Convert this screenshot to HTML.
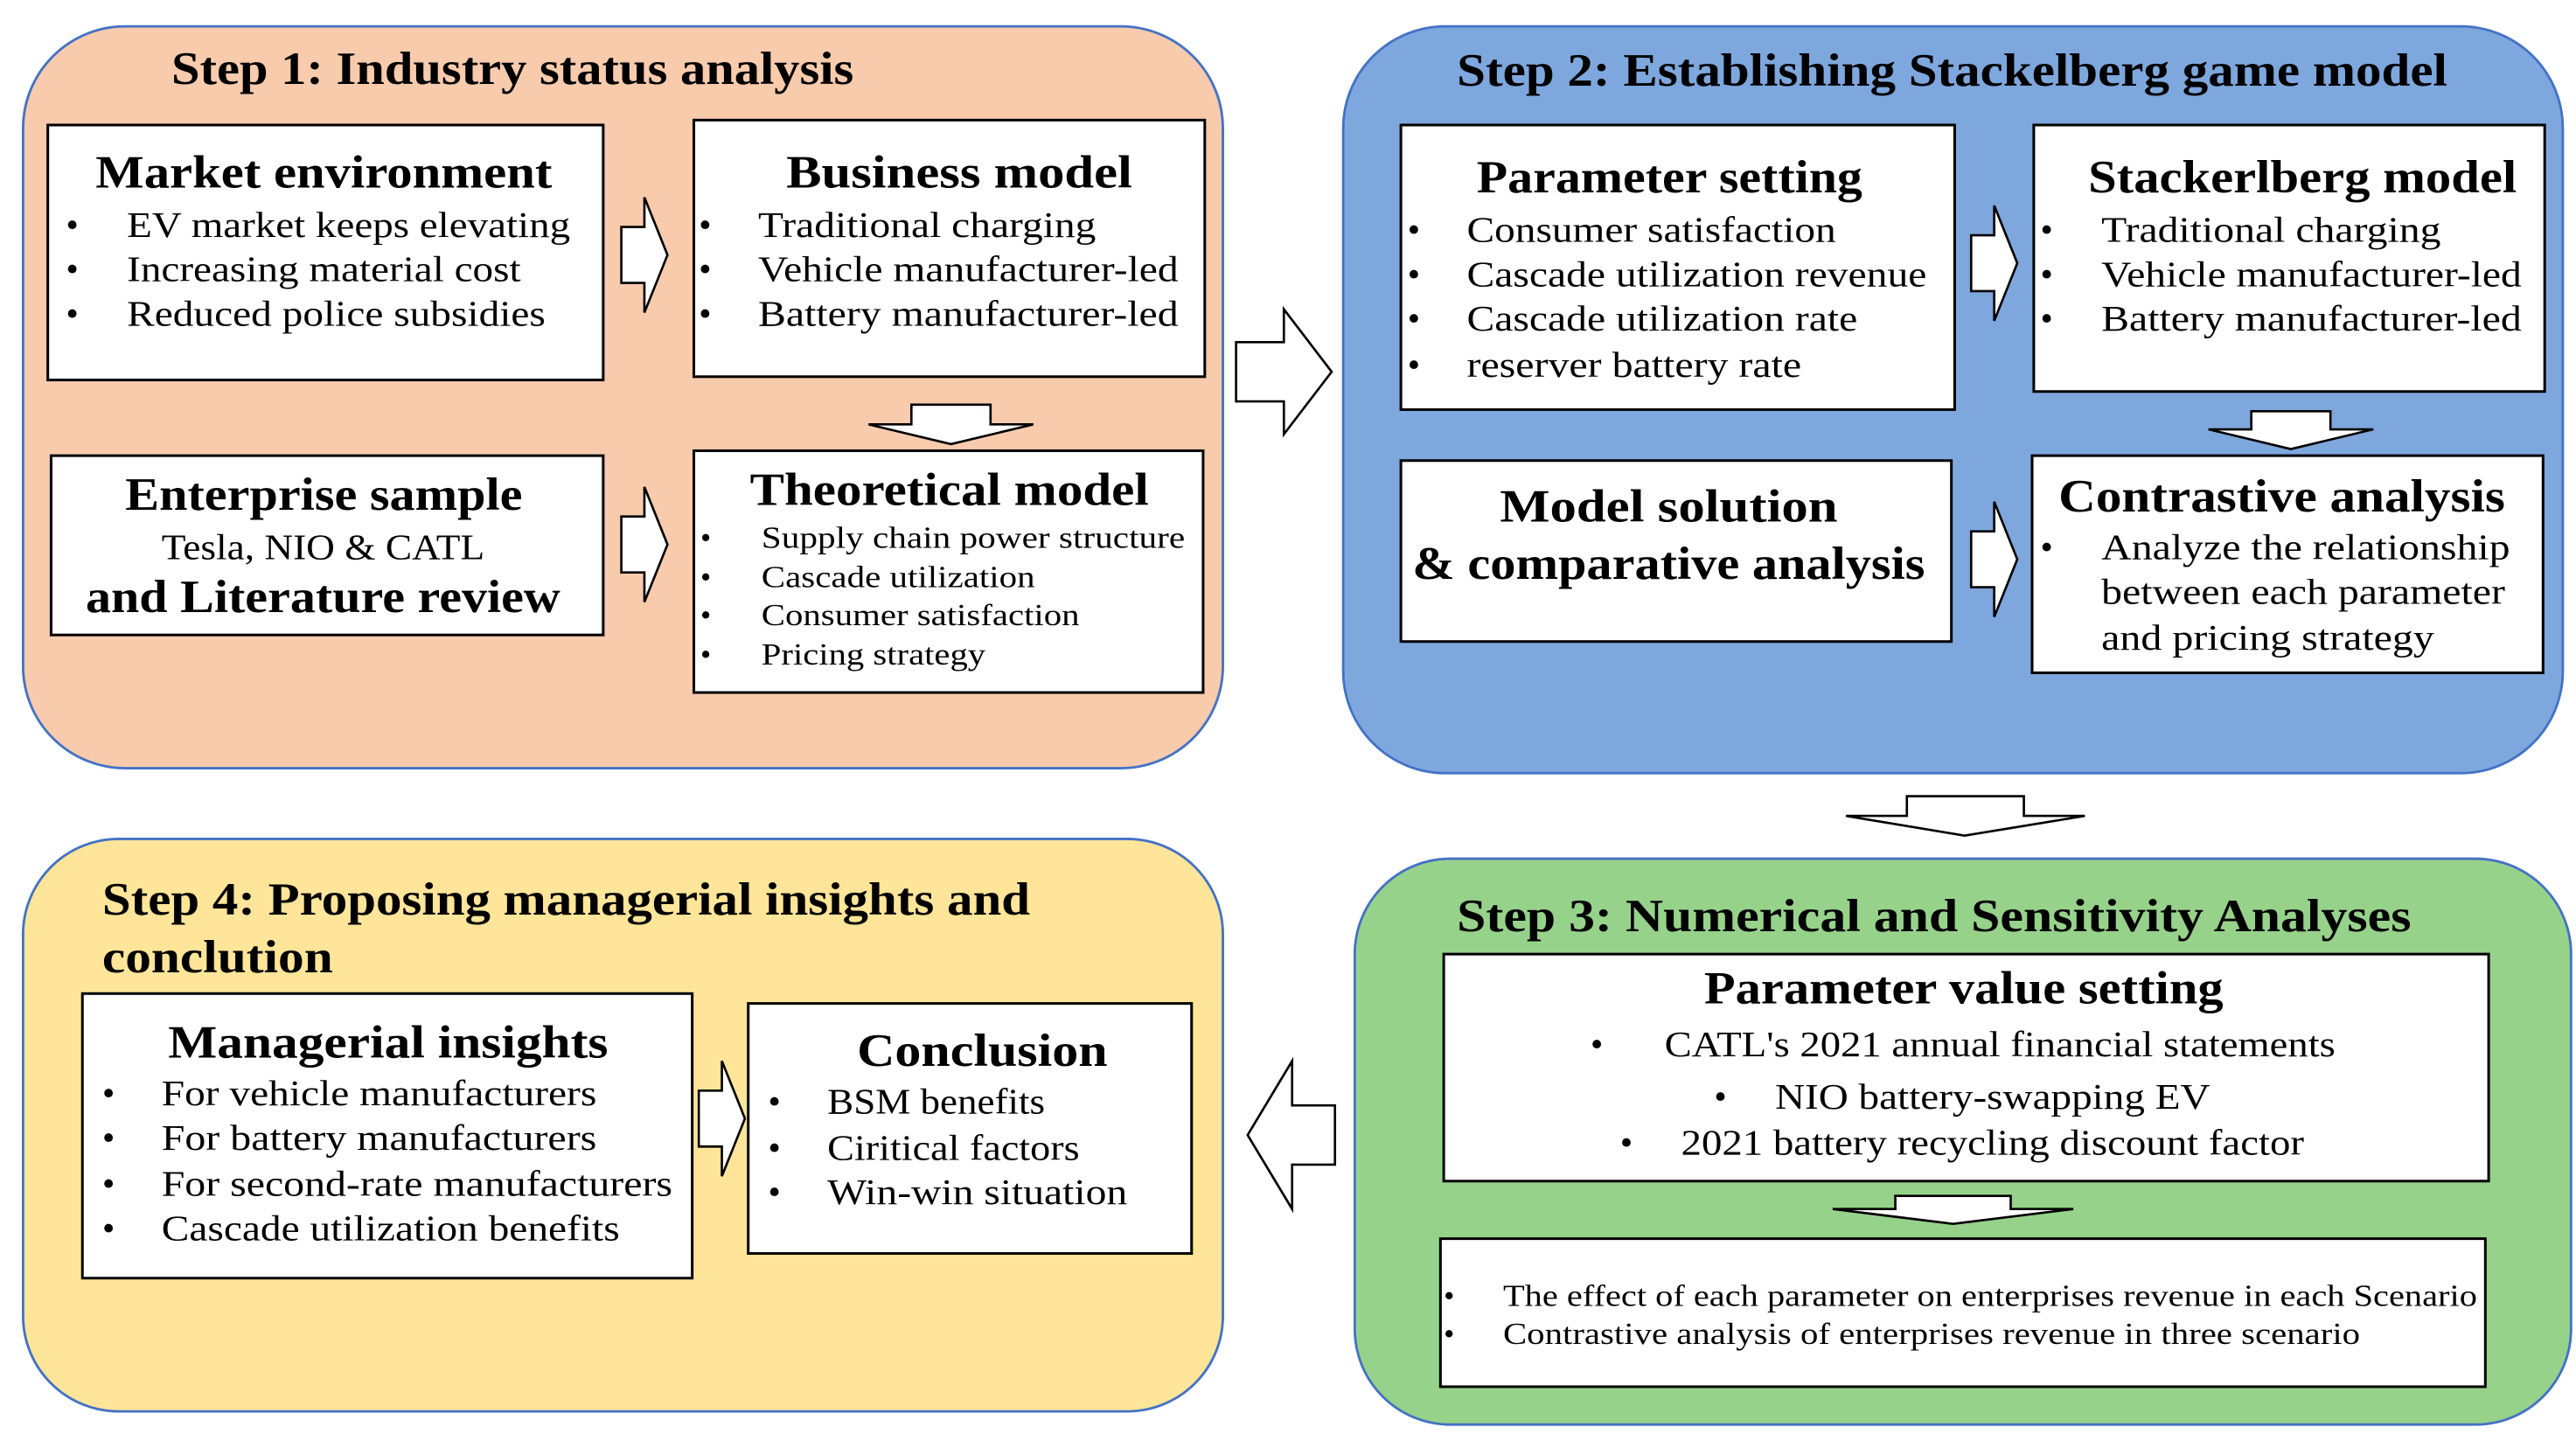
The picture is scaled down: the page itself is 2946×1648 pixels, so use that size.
<!DOCTYPE html>
<html><head><meta charset="utf-8"><style>
html,body{margin:0;padding:0;background:#fff;}
svg{display:block;}
text{font-family:"Liberation Serif",serif;fill:#000;}
.t{font-weight:bold;font-size:28px;}
.h{font-weight:bold;font-size:28px;}
.b{font-size:22px;}
.s{font-size:18.5px;}
.box{fill:#fff;stroke:#000;stroke-width:1.6;}
.ar{fill:#fff;stroke:#000;stroke-width:1.4;}
</style></head><body>
<svg width="2946" height="1648" viewBox="0 0 1563 876" preserveAspectRatio="none" xmlns="http://www.w3.org/2000/svg">
<rect x="0" y="0" width="1563" height="876" fill="#fff"/>
<rect x="14" y="16" width="728" height="451" rx="62" fill="#F8CBAD" stroke="#4472C4" stroke-width="1.5"/>
<rect x="815" y="16" width="740" height="454" rx="62" fill="#7EA7DD" stroke="#4472C4" stroke-width="1.5"/>
<rect x="14" y="510" width="728" height="348" rx="58" fill="#FFE599" stroke="#4472C4" stroke-width="1.5"/>
<rect x="822" y="522" width="738" height="344" rx="58" fill="#97D28B" stroke="#4472C4" stroke-width="1.5"/>

<g lengthAdjust="spacingAndGlyphs">
<!-- Step 1 -->
<text class="t" x="104" y="51" textLength="414" lengthAdjust="spacingAndGlyphs">Step 1: Industry status analysis</text>
<rect class="box" x="29" y="76" width="337" height="155"/>
<text class="h" x="58" y="114" textLength="277" lengthAdjust="spacingAndGlyphs">Market environment</text>
<g class="b"><text x="40" y="144">•</text><text x="77" y="144" textLength="269" lengthAdjust="spacingAndGlyphs">EV market keeps elevating</text>
<text x="40" y="171">•</text><text x="77" y="171" textLength="239" lengthAdjust="spacingAndGlyphs">Increasing material cost</text>
<text x="40" y="198">•</text><text x="77" y="198" textLength="254" lengthAdjust="spacingAndGlyphs">Reduced police subsidies</text></g>

<rect class="box" x="421" y="73" width="310" height="156"/>
<text class="h" x="477" y="114" textLength="210" lengthAdjust="spacingAndGlyphs">Business model</text>
<g class="b"><text x="424" y="144">•</text><text x="460" y="144" textLength="205" lengthAdjust="spacingAndGlyphs">Traditional charging</text>
<text x="424" y="171">•</text><text x="460" y="171" textLength="255" lengthAdjust="spacingAndGlyphs">Vehicle manufacturer-led</text>
<text x="424" y="198">•</text><text x="460" y="198" textLength="255" lengthAdjust="spacingAndGlyphs">Battery manufacturer-led</text></g>

<rect class="box" x="31" y="277" width="335" height="109"/>
<text class="h" x="76" y="310" textLength="241" lengthAdjust="spacingAndGlyphs">Enterprise sample</text>
<text class="b" x="98" y="340" textLength="196" lengthAdjust="spacingAndGlyphs">Tesla, NIO &amp; CATL</text>
<text class="h" x="52" y="372" textLength="288" lengthAdjust="spacingAndGlyphs">and Literature review</text>

<rect class="box" x="421" y="274" width="309" height="147"/>
<text class="h" x="455" y="307" textLength="242" lengthAdjust="spacingAndGlyphs">Theoretical model</text>
<g class="s"><text x="425" y="333">•</text><text x="462" y="333" textLength="257" lengthAdjust="spacingAndGlyphs">Supply chain power structure</text>
<text x="425" y="357">•</text><text x="462" y="357" textLength="166" lengthAdjust="spacingAndGlyphs">Cascade utilization</text>
<text x="425" y="380">•</text><text x="462" y="380" textLength="193" lengthAdjust="spacingAndGlyphs">Consumer satisfaction</text>
<text x="425" y="404">•</text><text x="462" y="404" textLength="136" lengthAdjust="spacingAndGlyphs">Pricing strategy</text></g>

<polygon class="ar" points="377,138 391,138 391,120 405,155 391,190 391,172 377,172"/>
<polygon class="ar" points="377,314 391,314 391,296 405,331 391,366 391,348 377,348"/>
<polygon class="ar" points="553,246 601,246 601,258 627,258 577,270 527,258 553,258"/>
<polygon class="ar" points="750,208 779,208 779,188 808,226 779,264 779,244 750,244"/>

<!-- Step 2 -->
<text class="t" x="884" y="52" textLength="601" lengthAdjust="spacingAndGlyphs">Step 2: Establishing Stackelberg game model</text>
<rect class="box" x="850" y="76" width="336" height="173"/>
<text class="h" x="896" y="117" textLength="234" lengthAdjust="spacingAndGlyphs">Parameter setting</text>
<g class="b"><text x="854" y="147">•</text><text x="890" y="147" textLength="224" lengthAdjust="spacingAndGlyphs">Consumer satisfaction</text>
<text x="854" y="174">•</text><text x="890" y="174" textLength="279" lengthAdjust="spacingAndGlyphs">Cascade utilization revenue</text>
<text x="854" y="201">•</text><text x="890" y="201" textLength="237" lengthAdjust="spacingAndGlyphs">Cascade utilization rate</text>
<text x="854" y="229">•</text><text x="890" y="229" textLength="203" lengthAdjust="spacingAndGlyphs">reserver battery rate</text></g>

<rect class="box" x="1234" y="76" width="310" height="162"/>
<text class="h" x="1267" y="117" textLength="260" lengthAdjust="spacingAndGlyphs">Stackerlberg model</text>
<g class="b"><text x="1238" y="147">•</text><text x="1275" y="147" textLength="206" lengthAdjust="spacingAndGlyphs">Traditional charging</text>
<text x="1238" y="174">•</text><text x="1275" y="174" textLength="255" lengthAdjust="spacingAndGlyphs">Vehicle manufacturer-led</text>
<text x="1238" y="201">•</text><text x="1275" y="201" textLength="255" lengthAdjust="spacingAndGlyphs">Battery manufacturer-led</text></g>

<rect class="box" x="850" y="280" width="334" height="110"/>
<text class="h" x="910" y="317" textLength="205" lengthAdjust="spacingAndGlyphs">Model solution</text>
<text class="h" x="857" y="352" textLength="311" lengthAdjust="spacingAndGlyphs">&amp; comparative analysis</text>

<rect class="box" x="1233" y="277" width="310" height="132"/>
<text class="h" x="1249" y="311" textLength="271" lengthAdjust="spacingAndGlyphs">Contrastive analysis</text>
<g class="b"><text x="1238" y="340">•</text><text x="1275" y="340" textLength="248" lengthAdjust="spacingAndGlyphs">Analyze the relationship</text>
<text x="1275" y="367" textLength="245" lengthAdjust="spacingAndGlyphs">between each parameter</text>
<text x="1275" y="395" textLength="202" lengthAdjust="spacingAndGlyphs">and pricing strategy</text></g>

<polygon class="ar" points="1196,143 1210,143 1210,125 1224,160 1210,195 1210,177 1196,177"/>
<polygon class="ar" points="1196,323 1210,323 1210,305 1224,340 1210,375 1210,357 1196,357"/>
<polygon class="ar" points="1366,250 1414,250 1414,261 1440,261 1390,273 1340,261 1366,261"/>
<polygon class="ar" points="1157,484 1228,484 1228,496 1265,496 1192,508 1120,496 1157,496"/>

<!-- Step 3 -->
<text class="t" x="884" y="566" textLength="579" lengthAdjust="spacingAndGlyphs">Step 3: Numerical and Sensitivity Analyses</text>
<rect class="box" x="876" y="580" width="634" height="138"/>
<text class="h" x="1034" y="610" textLength="315" lengthAdjust="spacingAndGlyphs">Parameter value setting</text>
<g class="b"><text x="965" y="642">•</text><text x="1010" y="642" textLength="407" lengthAdjust="spacingAndGlyphs">CATL's 2021 annual financial statements</text>
<text x="1040" y="674">•</text><text x="1077" y="674" textLength="264" lengthAdjust="spacingAndGlyphs">NIO battery-swapping EV</text>
<text x="983" y="702">•</text><text x="1020" y="702" textLength="378" lengthAdjust="spacingAndGlyphs">2021 battery recycling discount factor</text></g>

<polygon class="ar" points="1150,727 1220,727 1220,735 1258,735 1185,744 1112,735 1150,735"/>
<rect class="box" x="874" y="753" width="634" height="90"/>
<g class="s"><text x="876" y="794">•</text><text x="912" y="794" textLength="591" lengthAdjust="spacingAndGlyphs">The effect of each parameter on enterprises revenue in each Scenario</text>
<text x="876" y="817">•</text><text x="912" y="817" textLength="520" lengthAdjust="spacingAndGlyphs">Contrastive analysis of enterprises revenue in three scenario</text></g>

<polygon class="ar" points="810,672 784,672 784,645 757,690 784,735 784,708 810,708"/>

<!-- Step 4 -->
<text class="t" x="62" y="556" textLength="563" lengthAdjust="spacingAndGlyphs">Step 4: Proposing managerial insights and</text>
<text class="t" x="62" y="591" textLength="140" lengthAdjust="spacingAndGlyphs">conclution</text>
<rect class="box" x="50" y="604" width="370" height="173"/>
<text class="h" x="102" y="643" textLength="267" lengthAdjust="spacingAndGlyphs">Managerial insights</text>
<g class="b"><text x="62" y="672">•</text><text x="98" y="672" textLength="264" lengthAdjust="spacingAndGlyphs">For vehicle manufacturers</text>
<text x="62" y="699">•</text><text x="98" y="699" textLength="264" lengthAdjust="spacingAndGlyphs">For battery manufacturers</text>
<text x="62" y="727">•</text><text x="98" y="727" textLength="310" lengthAdjust="spacingAndGlyphs">For second-rate manufacturers</text>
<text x="62" y="754">•</text><text x="98" y="754" textLength="278" lengthAdjust="spacingAndGlyphs">Cascade utilization benefits</text></g>

<polygon class="ar" points="424,663 438,663 438,645 452,680 438,715 438,697 424,697"/>

<rect class="box" x="454" y="610" width="269" height="152"/>
<text class="h" x="520" y="648" textLength="152" lengthAdjust="spacingAndGlyphs">Conclusion</text>
<g class="b"><text x="466" y="677">•</text><text x="502" y="677" textLength="132" lengthAdjust="spacingAndGlyphs">BSM benefits</text>
<text x="466" y="705">•</text><text x="502" y="705" textLength="153" lengthAdjust="spacingAndGlyphs">Ciritical factors</text>
<text x="466" y="732">•</text><text x="502" y="732" textLength="182" lengthAdjust="spacingAndGlyphs">Win-win situation</text></g>
</g>
</svg>
</body></html>
